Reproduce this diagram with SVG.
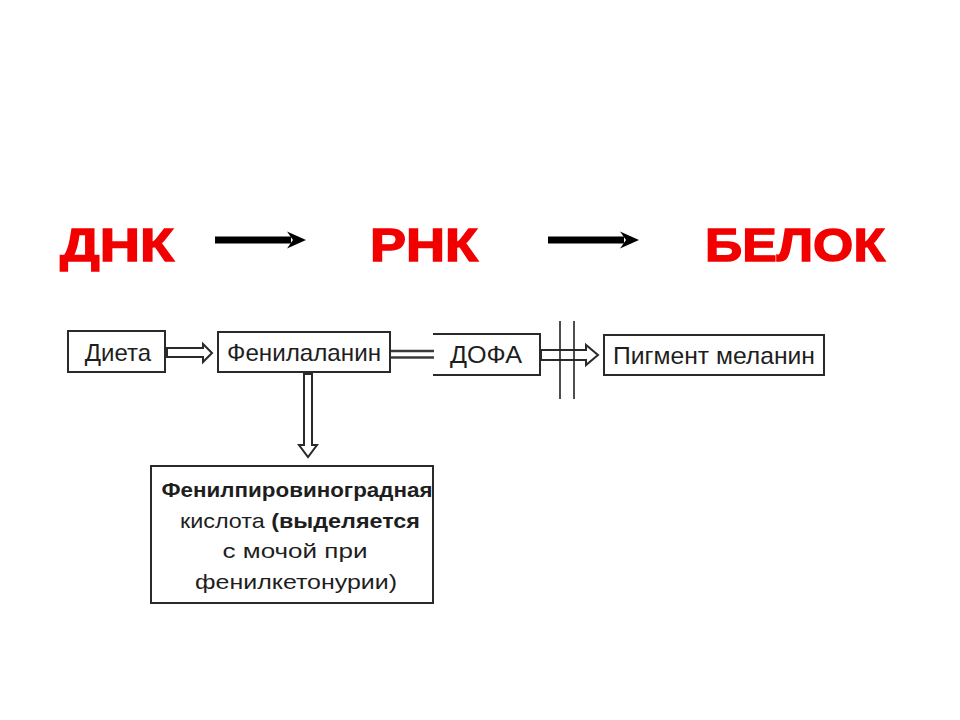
<svg xmlns="http://www.w3.org/2000/svg" width="960" height="720" viewBox="0 0 960 720">
<style>
  .big { font-family: "Liberation Sans", Arial, sans-serif; font-weight: bold; font-size: 47px; fill: #f20000; stroke: #f20000; stroke-width: 1.4px; }
  .lbl { font-family: "Liberation Sans", Arial, sans-serif; font-size: 24px; fill: #1e1e1e; }
  .small { font-family: "Liberation Sans", Arial, sans-serif; font-size: 21px; fill: #1e1e1e; }
  .box { fill: #ffffff; stroke: #2a2a2a; stroke-width: 2; }
  .hollow { fill: #ffffff; stroke: #2a2a2a; stroke-width: 2; stroke-linejoin: miter; }
  .solid { fill: #000000; }
</style>
<rect width="960" height="720" fill="#ffffff"/>

<g id="connectors">
  <!-- DNA -> RNA -->
  <rect class="solid" x="215" y="236.5" width="76" height="7"/>
  <polygon class="solid" points="287,231.5 306,240 287,248.5 293,240"/>
  <!-- RNA -> protein -->
  <rect class="solid" x="548" y="236.5" width="76" height="7"/>
  <polygon class="solid" points="620,231.5 639,240 620,248.5 626,240"/>
  <!-- Диета -> Фенилаланин -->
  <polygon class="hollow" points="167,348 203,348 203,344 212,353 203,362 203,357 167,357"/>
  <!-- Фенилаланин = ДОФА -->
  <line x1="391" y1="351" x2="434" y2="351" stroke="#3a3a3a" stroke-width="2.5"/>
  <line x1="391" y1="357.5" x2="434" y2="357.5" stroke="#3a3a3a" stroke-width="2.5"/>
  <!-- ДОФА -> Пигмент (blocked) -->
  <polygon class="hollow" points="541,350 586,350 586,345 598,355 586,365 586,360 541,360"/>
  <line x1="560" y1="321" x2="560" y2="399" stroke="#222" stroke-width="1.6"/>
  <line x1="574" y1="321" x2="574" y2="399" stroke="#222" stroke-width="1.6"/>
  <!-- Фенилаланин -> кислота -->
  <polygon class="hollow" points="304,374 312,374 312,445 317,445 308,457 299,445 304,445"/>
</g>

<g id="dna"><text class="big" x="60" y="261" textLength="114" lengthAdjust="spacingAndGlyphs">ДНК</text></g>
<g id="rna"><text class="big" x="370" y="261" textLength="108" lengthAdjust="spacingAndGlyphs">РНК</text></g>
<g id="protein"><text class="big" x="705" y="261" textLength="180" lengthAdjust="spacingAndGlyphs">БЕЛОК</text></g>

<g id="diet">
  <rect class="box" x="68" y="331" width="97" height="41"/>
  <text class="lbl" x="118" y="361" text-anchor="middle">Диета</text>
</g>
<g id="phenylalanine">
  <rect class="box" x="218" y="332" width="172" height="40"/>
  <text class="lbl" x="304" y="361" text-anchor="middle" textLength="154" lengthAdjust="spacingAndGlyphs">Фенилаланин</text>
</g>
<g id="dopa">
  <polyline points="433,334 540,334 540,375 433,375" fill="none" stroke="#2a2a2a" stroke-width="2"/>
  <text class="lbl" x="486" y="363" text-anchor="middle" textLength="72" lengthAdjust="spacingAndGlyphs">ДОФА</text>
</g>
<g id="melanin">
  <rect class="box" x="604" y="335" width="220" height="40"/>
  <text class="lbl" x="714" y="364" text-anchor="middle" textLength="202" lengthAdjust="spacingAndGlyphs">Пигмент меланин</text>
</g>
<g id="acid">
  <rect class="box" x="151" y="466" width="282" height="137"/>
  <text class="small" x="297" y="497" text-anchor="middle" font-weight="bold" textLength="271" lengthAdjust="spacingAndGlyphs">Фенилпировиноградная</text>
  <text class="small" x="300" y="528" text-anchor="middle" textLength="240" lengthAdjust="spacingAndGlyphs">кислота <tspan font-weight="bold">(выделяется</tspan></text>
  <text class="small" x="295" y="558" text-anchor="middle" textLength="145" lengthAdjust="spacingAndGlyphs">с мочой при</text>
  <text class="small" x="296" y="589" text-anchor="middle" textLength="202" lengthAdjust="spacingAndGlyphs">фенилкетонурии)</text>
</g>
</svg>
